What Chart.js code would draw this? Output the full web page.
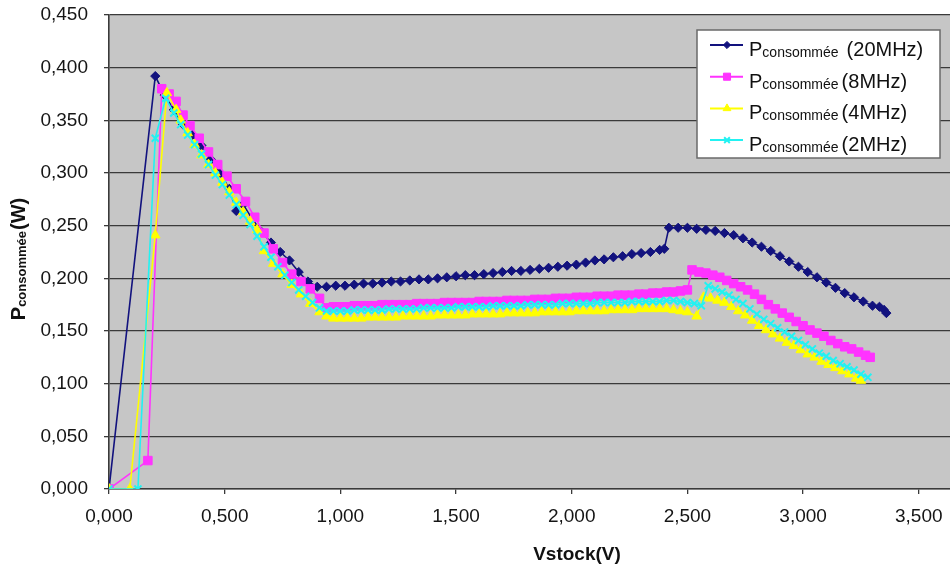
<!DOCTYPE html>
<html>
<head>
<meta charset="utf-8">
<script src="https://cdn.jsdelivr.net/npm/chart.js@4.4.0/dist/chart.umd.min.js"></script>
<style>
  html, body { margin: 0; padding: 0; background: #fff; }
</style>
</head>
<body>
<canvas id="myChart" width="950" height="566"></canvas>
<script>
// tick values (labels are written with a comma, French style)
const xTicks = [0, 0.5, 1, 1.5, 2, 2.5, 3, 3.5];
const yTicks = [0, 0.05, 0.1, 0.15, 0.2, 0.25, 0.3, 0.35, 0.4, 0.45];

const seriesLabels = ['(20MHz)', '(8MHz)', '(4MHz)', '(2MHz)'];

// [Vstock (V), Pconsommée (W)]
const p20MHz = [
  [0, 0], [0.20, 0.392], [0.24, 0.374], [0.28, 0.360], [0.32, 0.346], [0.36, 0.336], [0.40, 0.326],
  [0.44, 0.313], [0.48, 0.300], [0.52, 0.285], [0.55, 0.264], [0.58, 0.270], [0.62, 0.256],
  [0.66, 0.244], [0.70, 0.234], [0.74, 0.225], [0.78, 0.217], [0.82, 0.206], [0.86, 0.197],
  [0.90, 0.192], [0.94, 0.192], [0.98, 0.193], [1.02, 0.193], [1.06, 0.194], [1.10, 0.195],
  [1.14, 0.195], [1.18, 0.196], [1.22, 0.197], [1.26, 0.197], [1.30, 0.198], [1.34, 0.199],
  [1.38, 0.199], [1.42, 0.200], [1.46, 0.201], [1.50, 0.202], [1.54, 0.203], [1.58, 0.203],
  [1.62, 0.204], [1.66, 0.205], [1.70, 0.206], [1.74, 0.207], [1.78, 0.207], [1.82, 0.208],
  [1.86, 0.209], [1.90, 0.210], [1.94, 0.211], [1.98, 0.212], [2.02, 0.213], [2.06, 0.215],
  [2.10, 0.217], [2.14, 0.218], [2.18, 0.220], [2.22, 0.221], [2.26, 0.223], [2.30, 0.224],
  [2.34, 0.225], [2.38, 0.227], [2.40, 0.228], [2.42, 0.248], [2.46, 0.248], [2.50, 0.248],
  [2.54, 0.247], [2.58, 0.246], [2.62, 0.245], [2.66, 0.243], [2.70, 0.241], [2.74, 0.238],
  [2.78, 0.234], [2.82, 0.230], [2.86, 0.226], [2.90, 0.221], [2.94, 0.216], [2.98, 0.211],
  [3.02, 0.206], [3.06, 0.201], [3.10, 0.196], [3.14, 0.191], [3.18, 0.186], [3.22, 0.182],
  [3.26, 0.178], [3.30, 0.174], [3.33, 0.173], [3.35, 0.170], [3.36, 0.167]
];

const p8MHz = [
  [0, 0], [0.168, 0.027], [0.228, 0.380], [0.26, 0.375], [0.29, 0.368], [0.32, 0.355], [0.35, 0.345],
  [0.39, 0.333], [0.43, 0.320], [0.47, 0.308], [0.51, 0.297], [0.55, 0.285], [0.59, 0.273],
  [0.63, 0.258], [0.67, 0.243], [0.71, 0.228], [0.75, 0.215], [0.79, 0.204], [0.83, 0.197],
  [0.87, 0.190], [0.91, 0.181], [0.94, 0.172], [0.97, 0.173], [1.00, 0.173], [1.03, 0.173],
  [1.06, 0.174], [1.09, 0.174], [1.12, 0.174], [1.15, 0.174], [1.18, 0.175], [1.21, 0.175],
  [1.24, 0.175], [1.27, 0.175], [1.30, 0.175], [1.33, 0.176], [1.36, 0.176], [1.39, 0.176],
  [1.42, 0.176], [1.45, 0.177], [1.48, 0.177], [1.51, 0.177], [1.54, 0.177], [1.57, 0.177],
  [1.60, 0.178], [1.63, 0.178], [1.66, 0.178], [1.69, 0.178], [1.72, 0.179], [1.75, 0.179],
  [1.78, 0.179], [1.81, 0.179], [1.84, 0.180], [1.87, 0.180], [1.90, 0.180], [1.93, 0.181],
  [1.96, 0.181], [1.99, 0.181], [2.02, 0.182], [2.05, 0.182], [2.08, 0.182], [2.11, 0.183],
  [2.14, 0.183], [2.17, 0.183], [2.20, 0.184], [2.23, 0.184], [2.26, 0.184], [2.29, 0.185],
  [2.32, 0.185], [2.35, 0.186], [2.38, 0.186], [2.41, 0.187], [2.44, 0.187], [2.47, 0.188],
  [2.50, 0.189], [2.52, 0.208], [2.55, 0.206], [2.58, 0.205], [2.61, 0.203], [2.64, 0.201],
  [2.67, 0.198], [2.70, 0.195], [2.73, 0.192], [2.76, 0.189], [2.79, 0.185], [2.82, 0.180],
  [2.85, 0.175], [2.88, 0.171], [2.91, 0.167], [2.94, 0.163], [2.97, 0.159], [3.00, 0.155],
  [3.03, 0.151], [3.06, 0.148], [3.09, 0.145], [3.12, 0.141], [3.15, 0.138], [3.18, 0.135],
  [3.21, 0.133], [3.24, 0.130], [3.27, 0.127], [3.29, 0.125]
];

const p4MHz = [
  [0, 0], [0.09, 0], [0.20, 0.241], [0.25, 0.376], [0.29, 0.360], [0.31, 0.350], [0.34, 0.338],
  [0.37, 0.327], [0.40, 0.317], [0.43, 0.308], [0.46, 0.300], [0.49, 0.291], [0.52, 0.282],
  [0.55, 0.272], [0.58, 0.263], [0.61, 0.254], [0.64, 0.246], [0.67, 0.226], [0.71, 0.214],
  [0.75, 0.204], [0.79, 0.194], [0.83, 0.185], [0.87, 0.176], [0.91, 0.168], [0.94, 0.164],
  [0.97, 0.162], [1.00, 0.162], [1.03, 0.162], [1.06, 0.162], [1.09, 0.162], [1.12, 0.163],
  [1.15, 0.163], [1.18, 0.163], [1.21, 0.163], [1.24, 0.163], [1.27, 0.164], [1.30, 0.164],
  [1.33, 0.164], [1.36, 0.164], [1.39, 0.164], [1.42, 0.165], [1.45, 0.165], [1.48, 0.165],
  [1.51, 0.165], [1.54, 0.165], [1.57, 0.166], [1.60, 0.166], [1.63, 0.166], [1.66, 0.166],
  [1.69, 0.166], [1.72, 0.167], [1.75, 0.167], [1.78, 0.167], [1.81, 0.167], [1.84, 0.167],
  [1.87, 0.168], [1.90, 0.168], [1.93, 0.168], [1.96, 0.168], [1.99, 0.168], [2.02, 0.169],
  [2.05, 0.169], [2.08, 0.169], [2.11, 0.169], [2.14, 0.169], [2.17, 0.170], [2.20, 0.170],
  [2.23, 0.170], [2.26, 0.170], [2.29, 0.171], [2.32, 0.171], [2.35, 0.171], [2.38, 0.171],
  [2.41, 0.171], [2.44, 0.170], [2.47, 0.169], [2.50, 0.168], [2.54, 0.164], [2.57, 0.182],
  [2.60, 0.181], [2.63, 0.179], [2.66, 0.177], [2.69, 0.173], [2.72, 0.169], [2.75, 0.165],
  [2.78, 0.160], [2.81, 0.155], [2.84, 0.151], [2.87, 0.147], [2.90, 0.143], [2.93, 0.139],
  [2.96, 0.136], [2.99, 0.132], [3.02, 0.128], [3.05, 0.125], [3.08, 0.121], [3.11, 0.118],
  [3.14, 0.115], [3.17, 0.112], [3.20, 0.109], [3.23, 0.105], [3.25, 0.103]
];

const p2MHz = [
  [0, 0], [0.125, 0], [0.20, 0.333], [0.245, 0.371], [0.28, 0.357], [0.31, 0.346], [0.34, 0.336],
  [0.37, 0.327], [0.40, 0.318], [0.43, 0.308], [0.46, 0.298], [0.49, 0.289], [0.52, 0.279],
  [0.55, 0.270], [0.58, 0.260], [0.61, 0.251], [0.64, 0.240], [0.67, 0.230], [0.70, 0.220],
  [0.73, 0.211], [0.76, 0.203], [0.79, 0.196], [0.82, 0.189], [0.85, 0.183], [0.88, 0.177],
  [0.91, 0.172], [0.94, 0.169], [0.97, 0.169], [1.00, 0.169], [1.03, 0.169], [1.06, 0.170],
  [1.09, 0.170], [1.12, 0.170], [1.15, 0.170], [1.18, 0.170], [1.21, 0.171], [1.24, 0.171],
  [1.27, 0.171], [1.30, 0.171], [1.33, 0.171], [1.36, 0.172], [1.39, 0.172], [1.42, 0.172],
  [1.45, 0.172], [1.48, 0.172], [1.51, 0.173], [1.54, 0.173], [1.57, 0.173], [1.60, 0.173],
  [1.63, 0.173], [1.66, 0.174], [1.69, 0.174], [1.72, 0.174], [1.75, 0.174], [1.78, 0.174],
  [1.81, 0.175], [1.84, 0.175], [1.87, 0.175], [1.90, 0.175], [1.93, 0.175], [1.96, 0.176],
  [1.99, 0.176], [2.02, 0.176], [2.05, 0.176], [2.08, 0.176], [2.11, 0.177], [2.14, 0.177],
  [2.17, 0.177], [2.20, 0.177], [2.23, 0.177], [2.26, 0.178], [2.29, 0.178], [2.32, 0.178],
  [2.35, 0.178], [2.38, 0.178], [2.41, 0.179], [2.44, 0.179], [2.47, 0.178], [2.50, 0.177],
  [2.53, 0.176], [2.56, 0.174], [2.59, 0.193], [2.62, 0.190], [2.65, 0.187], [2.68, 0.184],
  [2.71, 0.180], [2.74, 0.176], [2.77, 0.171], [2.80, 0.166], [2.83, 0.161], [2.86, 0.157],
  [2.89, 0.153], [2.92, 0.149], [2.95, 0.145], [2.98, 0.141], [3.01, 0.137], [3.04, 0.133],
  [3.07, 0.129], [3.10, 0.126], [3.13, 0.122], [3.16, 0.119], [3.19, 0.116], [3.22, 0.113],
  [3.25, 0.109], [3.28, 0.106]
];

const FONT = "'Liberation Sans', Arial, sans-serif";
const GRID = '#3a3a3a';

function fmt(v) {
  return Number(v).toFixed(3).replace('.', ',');
}
function toPts(arr) {
  return arr.map(p => ({ x: p[0], y: p[1] }));
}

const series = [
  { data: p20MHz, color: '#12127e', style: 'rectRot', radius: 4.6, bw: 1 },
  { data: p8MHz, color: '#ff33ff', style: 'rect', radius: 6, bw: 1 },
  { data: p4MHz, color: '#ffff00', style: 'triangle', radius: 5.5, bw: 1 },
  { data: p2MHz, color: '#22f2f2', style: 'crossRot', radius: 5, bw: 2 }
];

// draws P + subscript "consommée" + tail, returns width
function drawPcons(ctx, x, y, big, small, tail, gap, bold, doDraw) {
  const b = bold ? 'bold ' : '';
  ctx.font = b + big + 'px ' + FONT;
  const wP = ctx.measureText('P').width;
  ctx.font = b + small + 'px ' + FONT;
  const wS = ctx.measureText('consommée').width;
  ctx.font = b + big + 'px ' + FONT;
  const wT = ctx.measureText(tail).width;
  if (doDraw) {
    ctx.font = b + big + 'px ' + FONT;
    ctx.fillText('P', x, y);
    ctx.font = b + small + 'px ' + FONT;
    ctx.fillText('consommée', x + wP, y + 1);
    ctx.font = b + big + 'px ' + FONT;
    ctx.fillText(tail, x + wP + wS + gap, y);
  }
  return wP + wS + gap + wT;
}

const decorPlugin = {
  id: 'decor',
  beforeDraw(chart) {
    const ctx = chart.ctx;
    const a = chart.chartArea;
    ctx.save();
    ctx.fillStyle = '#ffffff';
    ctx.fillRect(0, 0, chart.width, chart.height);
    ctx.fillStyle = '#c6c6c6';
    ctx.fillRect(a.left, a.top, a.right - a.left, a.bottom - a.top);
    ctx.restore();
  },
  afterDraw(chart) {
    const ctx = chart.ctx;
    const a = chart.chartArea;
    ctx.save();
    ctx.fillStyle = '#111';
    ctx.textBaseline = 'alphabetic';

    // x title
    ctx.font = 'bold 19px ' + FONT;
    ctx.textAlign = 'center';
    ctx.fillText('Vstock(V)', 577, 560);

    // y title, rotated
    ctx.textAlign = 'left';
    ctx.translate(17, (a.top + a.bottom) / 2 + 7);
    ctx.rotate(-Math.PI / 2);
    const w = drawPcons(ctx, 0, 0, 20, 13, '(W)', 1, true, false);
    drawPcons(ctx, -w / 2, 8, 20, 13, '(W)', 1, true, true);
    ctx.restore();

    // legend
    ctx.save();
    const bx = 697, by = 30, bw = 243, bh = 128;
    ctx.fillStyle = '#ffffff';
    ctx.fillRect(bx, by, bw, bh);
    ctx.strokeStyle = '#6a6a6a';
    ctx.lineWidth = 1.5;
    ctx.strokeRect(bx, by, bw, bh);
    series.forEach((s, i) => {
      const ly = 45 + i * 31.7;
      ctx.strokeStyle = s.color;
      ctx.lineWidth = 2;
      ctx.beginPath();
      ctx.moveTo(710, ly);
      ctx.lineTo(743, ly);
      ctx.stroke();
      ctx.fillStyle = s.color;
      ctx.strokeStyle = s.color;
      ctx.lineWidth = s.bw;
      Chart.helpers.drawPoint(ctx, { pointStyle: s.style, radius: s.radius - 1, rotation: 0, borderWidth: s.bw }, 727, ly);
      ctx.fillStyle = '#111';
      ctx.textAlign = 'left';
      drawPcons(ctx, 749, ly + 11, 20, 14, seriesLabels[i], i === 0 ? 8 : 3, false, true);
    });
    ctx.restore();
  }
};

const ctx = document.getElementById('myChart').getContext('2d');

const myChart = new Chart(ctx, {
  type: 'line',
  data: {
    datasets: series.map((s, i) => ({
      label: 'Pconsommée ' + seriesLabels[i],
      data: toPts(s.data),
      borderColor: s.color,
      backgroundColor: s.color,
      borderWidth: 1.6,
      pointStyle: s.style,
      pointRadius: s.radius,
      pointBorderWidth: s.bw,
      pointBackgroundColor: s.color,
      pointBorderColor: s.color,
      fill: false,
      tension: 0,
      order: 4 - i
    }))
  },
  options: {
    responsive: false,
    animation: false,
    layout: { autoPadding: false, padding: { top: 15, right: 0, left: 0, bottom: 0 } },
    plugins: {
      legend: { display: false },
      tooltip: { enabled: false }
    },
    scales: {
      x: {
        type: 'linear',
        min: 0,
        max: 3.635,
        afterBuildTicks: s => { s.ticks = xTicks.map(v => ({ value: v })); },
        afterFit: s => { s.height = 77; s.paddingLeft = 0; s.paddingRight = 0; },
        ticks: {
          autoSkip: false,
          maxRotation: 0,
          padding: 11,
          color: '#151515',
          font: { family: FONT, size: 19 },
          callback: v => fmt(v)
        },
        grid: { drawOnChartArea: false, drawTicks: true, tickLength: 5, color: GRID, lineWidth: 1.3 },
        border: { display: true, color: GRID, width: 1.6 }
      },
      y: {
        min: 0,
        max: 0.45,
        afterBuildTicks: s => { s.ticks = yTicks.map(v => ({ value: v })); },
        afterFit: s => { s.width = 109; s.paddingTop = 0; s.paddingBottom = 0; },
        ticks: {
          padding: 16,
          color: '#151515',
          font: { family: FONT, size: 19 },
          callback: v => fmt(v)
        },
        grid: { color: GRID, lineWidth: 1.3, tickLength: 5 },
        border: { display: true, color: GRID, width: 1.6 }
      }
    }
  },
  plugins: [decorPlugin]
});
</script>
</body>
</html>
